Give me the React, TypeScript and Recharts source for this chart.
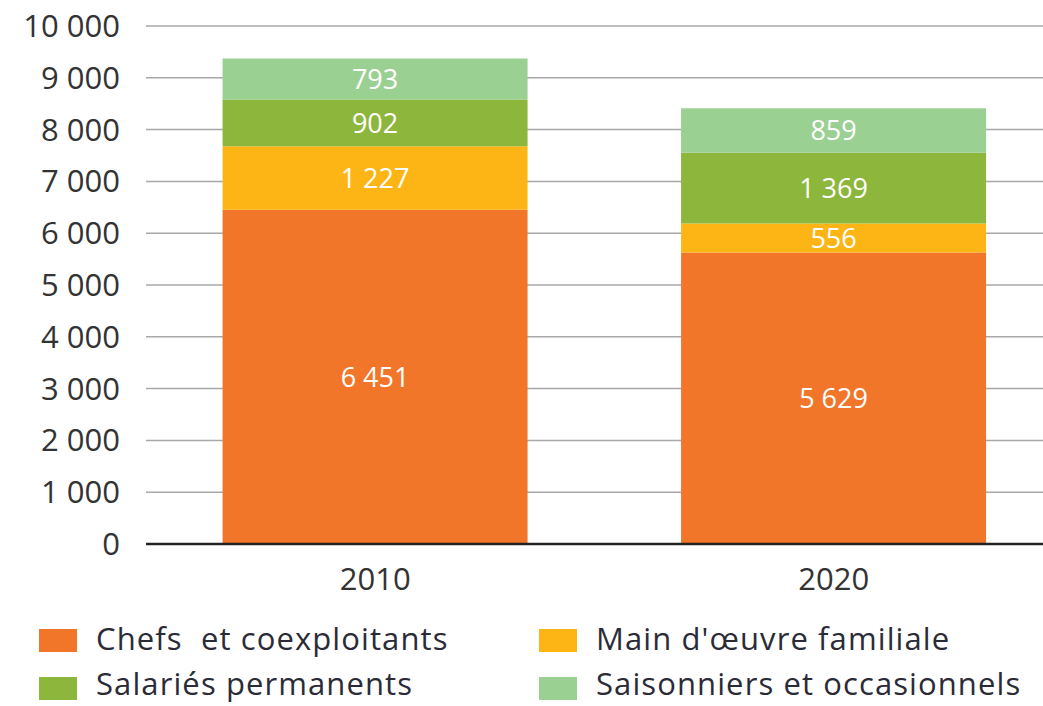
import React from 'react';
import { BarChart, Bar, XAxis, YAxis, CartesianGrid, Legend, LabelList } from 'recharts';

const categories = ['2010', '2020'];
const chefs = [6451, 5629];
const mainOeuvre = [1227, 556];
const salaries = [902, 1369];
const saisonniers = [793, 859];
const yTicks = [0, 1000, 2000, 3000, 4000, 5000, 6000, 7000, 8000, 9000, 10000];

const seriesNames = [
  'Chefs  et coexploitants',
  "Main d'œuvre familiale",
  'Salariés permanents',
  'Saisonniers et occasionnels',
];
const seriesKeys = ['chefs', 'mainOeuvre', 'salaries', 'saisonniers'];
const seriesColors = ['#F2762A', '#FDB515', '#8DB63C', '#9BD093'];

const data = categories.map((c, i) => ({
  year: c,
  chefs: chefs[i],
  mainOeuvre: mainOeuvre[i],
  salaries: salaries[i],
  saisonniers: saisonniers[i],
}));

const fmt = (v: any) => {
  const n = Number(v);
  return String(n).replace(/\B(?=(\d{3})+(?!\d))/g, '\u00A0');
};

const FONT = "'Open Sans', 'DejaVu Sans', sans-serif";

const legendCols = [39, 539, 39, 539];
const legendSquareTop = [17, 17, 65, 65];
const legendTextTop = [11, 11, 56, 56];

const LegendContent = () => (
  <div style={{ position: 'relative', width: 1043, height: 94 }}>
    {seriesNames.map((name, i) => (
      <React.Fragment key={name}>
        <div
          style={{
            position: 'absolute',
            left: legendCols[i],
            top: legendSquareTop[i],
            width: 38,
            height: 23,
            background: seriesColors[i],
          }}
        />
        <span
          style={{
            position: 'absolute',
            left: legendCols[i] + 57,
            top: legendTextTop[i],
            fontFamily: FONT,
            fontSize: 31,
            lineHeight: '31px',
            letterSpacing: 1.1,
            color: '#2b2b38',
            whiteSpace: 'pre',
          }}
        >
          {name}
        </span>
      </React.Fragment>
    ))}
  </div>
);

export default function App() {
  return (
    <div
      style={{
        position: 'absolute',
        left: 0,
        top: 0,
        width: 1043,
        height: 706,
        overflow: 'hidden',
        background: '#fff',
      }}
    >
      <BarChart
        width={1080}
        height={706}
        data={data}
        margin={{ top: 26, right: 17, left: 0, bottom: 0 }}
        barCategoryGap="16.7%"
      >
        <CartesianGrid vertical={false} stroke="#a8a8a8" strokeWidth={1.5} />
        <XAxis
          dataKey="year"
          tickLine={false}
          axisLine={{ stroke: '#222', strokeWidth: 2.5 }}
          tickMargin={18}
          height={68}
          tick={{ fontSize: 31, fill: '#333', fontFamily: FONT }}
        />
        <YAxis
          domain={[0, 10000]}
          ticks={yTicks}
          interval={0}
          tickFormatter={fmt}
          axisLine={false}
          tickLine={false}
          tickMargin={20}
          width={146}
          tick={{ fontSize: 31, fill: '#333', fontFamily: FONT }}
        />
        <Legend
          verticalAlign="bottom"
          content={LegendContent}
          wrapperStyle={{ left: 0, bottom: 0, width: 1043, height: 94 }}
        />
        {seriesKeys.map((k, i) => (
          <Bar
            key={k}
            dataKey={k}
            name={seriesNames[i]}
            stackId="a"
            fill={seriesColors[i]}
            isAnimationActive={false}
          >
            <LabelList
              dataKey={k}
              position="center"
              formatter={fmt}
              fill="#fff"
              style={{ fontSize: 27, fontFamily: FONT, fill: '#fff', fontWeight: 500 }}
            />
          </Bar>
        ))}
      </BarChart>
    </div>
  );
}
